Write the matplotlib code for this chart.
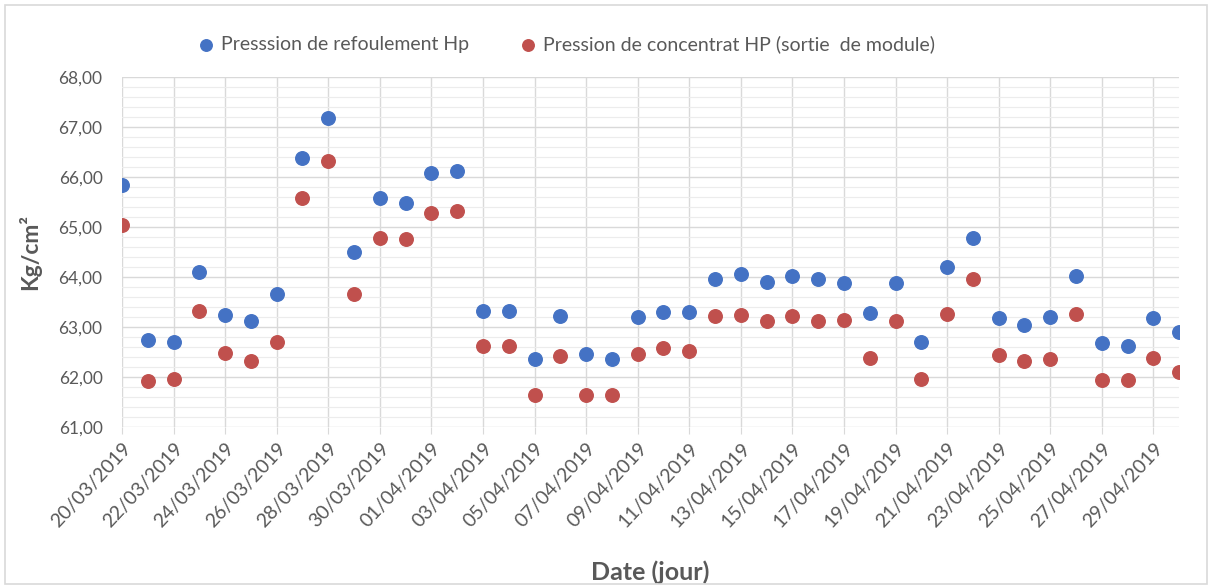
import numpy as np
import pandas as pd
import matplotlib
matplotlib.use('Agg')
import matplotlib.pyplot as plt
import matplotlib.dates as mdates
from matplotlib.ticker import MultipleLocator, FuncFormatter
from matplotlib.patches import Rectangle

plt.rcParams['font.family'] = ['Lato', 'DejaVu Sans']

# Days from 20/03/2019 to 30/04/2019
dates = pd.date_range('2019-03-20', '2019-04-30', freq='D')

# Pression de refoulement HP (Kg/cm2)
p_refoulement = [65.84, 62.74, 62.70, 64.10, 63.24, 63.11, 63.65, 66.38, 67.19, 64.50,
                 65.58, 65.47, 66.08, 66.11, 63.32, 63.32, 62.36, 63.22, 62.46, 62.36,
                 63.19, 63.29, 63.30, 63.95, 64.05, 63.90, 64.01, 63.95, 63.87, 63.27,
                 63.87, 62.69, 64.19, 64.78, 63.17, 63.03, 63.19, 64.01, 62.67, 62.62,
                 63.17, 62.90]

# Pression de concentrat HP (sortie de module)
p_concentrat = [65.03, 61.92, 61.95, 63.31, 62.48, 62.31, 62.69, 65.58, 66.32, 63.65,
                64.77, 64.75, 65.27, 65.32, 62.62, 62.62, 61.64, 62.42, 61.64, 61.64,
                62.46, 62.57, 62.52, 63.22, 63.24, 63.11, 63.22, 63.11, 63.13, 62.38,
                63.11, 61.95, 63.25, 63.96, 62.44, 62.32, 62.36, 63.25, 61.94, 61.93,
                62.38, 62.10]

labels = ['Presssion de refoulement Hp', 'Pression de concentrat HP (sortie  de module)']
colors = ['#4472C4', '#C0504D']
text_gray = '#595959'

fig = plt.figure(figsize=(12.11, 5.88), dpi=100)
ax = fig.add_axes([0.1007, 0.274, 0.873, 0.595])

# outer frame like the Excel chart area
fig.patches.append(Rectangle((0.004, 0.006), 0.993, 0.986, transform=fig.transFigure,
                             fill=False, edgecolor='#d9d9d9', linewidth=1.2))

ax.scatter(dates, p_refoulement, s=95, color=colors[0], label=labels[0], zorder=3)
ax.scatter(dates, p_concentrat, s=95, color=colors[1], label=labels[1], zorder=3)

ax.set_ylim(61, 68)
ax.set_xlim(dates[0], dates[-1])
ax.yaxis.set_major_locator(MultipleLocator(1))
ax.yaxis.set_minor_locator(MultipleLocator(0.2))
ax.yaxis.set_major_formatter(FuncFormatter(lambda v, p: f'{v:.2f}'.replace('.', ',')))

ax.set_xticks(dates[::2])
ax.xaxis.set_major_formatter(mdates.DateFormatter('%d/%m/%Y'))
plt.setp(ax.get_xticklabels(), rotation=47, ha='right', rotation_mode='anchor')

ax.grid(which='major', axis='both', color='#d9d9d9', linewidth=1.0, zorder=0)
ax.grid(which='minor', axis='y', color='#ececec', linewidth=0.8, zorder=0)
ax.set_axisbelow(True)

for s in ax.spines.values():
    s.set_visible(False)
ax.tick_params(axis='y', which='both', length=0, labelsize=12.5, labelcolor=text_gray, pad=14)
ax.tick_params(axis='x', which='major', length=5, color='#d9d9d9', labelsize=14,
               labelcolor=text_gray, pad=4)
ax.tick_params(axis='x', which='minor', length=0)

ax.set_xlabel('Date (jour)', fontsize=18, fontweight='bold', color=text_gray, va='center')
ax.xaxis.set_label_coords(0.5, -0.414)
ax.set_ylabel('Kg/cm²', fontsize=16.5, fontweight='bold', color=text_gray, va='center')
ax.yaxis.set_label_coords(-0.087, 0.5)

leg = ax.legend(loc='center', bbox_to_anchor=(0.415, 1.095), ncol=2, frameon=False,
                fontsize=14, labelcolor=text_gray, handletextpad=-0.2, columnspacing=2.0,
                scatterpoints=1, markerscale=0.85)

fig.savefig('out.png', dpi=100)
